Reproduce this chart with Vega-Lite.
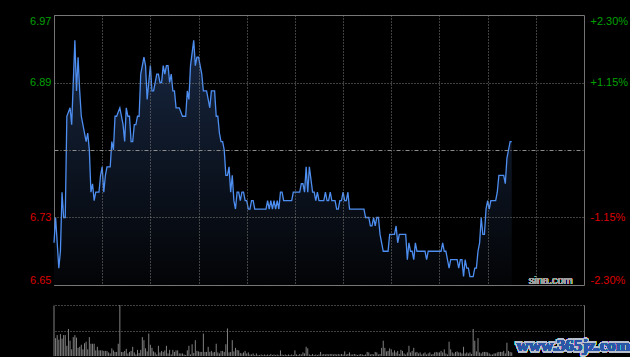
{
  "$schema": "https://vega.github.io/schema/vega-lite/v6.json",
  "background": "#000000",
  "padding": {"left": 29, "top": 14, "right": 0, "bottom": 0},
  "bounds": "flush",
  "spacing": 20,
  "config": {
    "font": "Liberation Sans",
    "view": {"stroke": "#737373", "strokeWidth": 1},
    "axis": {"labelFont": "Liberation Sans", "labelFontSize": 11, "title": null}
  },
  "datasets": {
    "price": [
      {"t":0,"p":6.70},{"t":1,"p":6.73},{"t":3,"p":6.67},{"t":4,"p":6.69},{"t":5,"p":6.76},{"t":6,"p":6.73},{"t":7,"p":6.73},{"t":8,"p":6.85},{"t":10,"p":6.86},{"t":11,"p":6.84},{"t":13,"p":6.94},{"t":14,"p":6.88},{"t":15,"p":6.92},{"t":16,"p":6.88},{"t":17,"p":6.85},{"t":19,"p":6.83},{"t":20,"p":6.82},{"t":21,"p":6.83},{"t":22,"p":6.81},{"t":23,"p":6.76},{"t":24,"p":6.77},{"t":25,"p":6.75},{"t":26,"p":6.76},{"t":28,"p":6.76},{"t":29,"p":6.78},{"t":30,"p":6.79},{"t":31,"p":6.76},{"t":32,"p":6.78},{"t":33,"p":6.79},{"t":35,"p":6.79},{"t":36,"p":6.82},{"t":37,"p":6.81},{"t":38,"p":6.85},{"t":39,"p":6.85},{"t":41,"p":6.86},{"t":42,"p":6.85},{"t":43,"p":6.84},{"t":44,"p":6.82},{"t":45,"p":6.86},{"t":46,"p":6.85},{"t":47,"p":6.85},{"t":48,"p":6.82},{"t":49,"p":6.82},{"t":50,"p":6.84},{"t":51,"p":6.84},{"t":52,"p":6.85},{"t":53,"p":6.85},{"t":54,"p":6.90},{"t":56,"p":6.92},{"t":57,"p":6.91},{"t":58,"p":6.87},{"t":60,"p":6.91},{"t":61,"p":6.88},{"t":62,"p":6.88},{"t":64,"p":6.90},{"t":65,"p":6.90},{"t":66,"p":6.89},{"t":67,"p":6.89},{"t":68,"p":6.91},{"t":69,"p":6.90},{"t":70,"p":6.91},{"t":71,"p":6.91},{"t":72,"p":6.89},{"t":73,"p":6.90},{"t":74,"p":6.88},{"t":75,"p":6.88},{"t":76,"p":6.86},{"t":78,"p":6.86},{"t":80,"p":6.85},{"t":82,"p":6.85},{"t":83,"p":6.88},{"t":84,"p":6.87},{"t":85,"p":6.91},{"t":87,"p":6.94},{"t":88,"p":6.91},{"t":89,"p":6.92},{"t":90,"p":6.92},{"t":92,"p":6.90},{"t":93,"p":6.88},{"t":95,"p":6.88},{"t":96,"p":6.87},{"t":97,"p":6.86},{"t":98,"p":6.88},{"t":100,"p":6.88},{"t":101,"p":6.85},{"t":102,"p":6.85},{"t":103,"p":6.83},{"t":104,"p":6.82},{"t":105,"p":6.82},{"t":106,"p":6.81},{"t":107,"p":6.78},{"t":108,"p":6.78},{"t":109,"p":6.79},{"t":110,"p":6.76},{"t":111,"p":6.78},{"t":112,"p":6.75},{"t":113,"p":6.74},{"t":114,"p":6.76},{"t":115,"p":6.76},{"t":116,"p":6.75},{"t":117,"p":6.76},{"t":118,"p":6.76},{"t":119,"p":6.75},{"t":120,"p":6.75},{"t":121,"p":6.74},{"t":122,"p":6.74},{"t":123,"p":6.75},{"t":124,"p":6.75},{"t":125,"p":6.74},{"t":132,"p":6.74},{"t":133,"p":6.75},{"t":134,"p":6.74},{"t":135,"p":6.75},{"t":136,"p":6.74},{"t":137,"p":6.75},{"t":138,"p":6.74},{"t":139,"p":6.75},{"t":140,"p":6.74},{"t":141,"p":6.76},{"t":142,"p":6.76},{"t":143,"p":6.75},{"t":148,"p":6.75},{"t":149,"p":6.76},{"t":153,"p":6.76},{"t":154,"p":6.77},{"t":155,"p":6.77},{"t":156,"p":6.76},{"t":157,"p":6.79},{"t":158,"p":6.76},{"t":159,"p":6.79},{"t":161,"p":6.76},{"t":162,"p":6.76},{"t":163,"p":6.75},{"t":164,"p":6.76},{"t":165,"p":6.75},{"t":168,"p":6.75},{"t":169,"p":6.76},{"t":170,"p":6.75},{"t":171,"p":6.75},{"t":172,"p":6.76},{"t":173,"p":6.75},{"t":175,"p":6.75},{"t":176,"p":6.74},{"t":177,"p":6.74},{"t":178,"p":6.75},{"t":179,"p":6.75},{"t":180,"p":6.76},{"t":181,"p":6.75},{"t":182,"p":6.75},{"t":183,"p":6.76},{"t":184,"p":6.74},{"t":193,"p":6.74},{"t":194,"p":6.73},{"t":196,"p":6.73},{"t":197,"p":6.72},{"t":198,"p":6.72},{"t":199,"p":6.73},{"t":200,"p":6.72},{"t":201,"p":6.73},{"t":202,"p":6.73},{"t":203,"p":6.71},{"t":205,"p":6.69},{"t":208,"p":6.69},{"t":209,"p":6.71},{"t":212,"p":6.71},{"t":213,"p":6.72},{"t":214,"p":6.70},{"t":215,"p":6.71},{"t":219,"p":6.71},{"t":220,"p":6.68},{"t":221,"p":6.70},{"t":222,"p":6.69},{"t":223,"p":6.69},{"t":224,"p":6.68},{"t":225,"p":6.70},{"t":226,"p":6.69},{"t":231,"p":6.69},{"t":232,"p":6.68},{"t":233,"p":6.69},{"t":241,"p":6.69},{"t":242,"p":6.70},{"t":243,"p":6.69},{"t":244,"p":6.69},{"t":245,"p":6.68},{"t":246,"p":6.67},{"t":247,"p":6.68},{"t":251,"p":6.68},{"t":252,"p":6.67},{"t":253,"p":6.68},{"t":254,"p":6.68},{"t":255,"p":6.66},{"t":256,"p":6.68},{"t":257,"p":6.67},{"t":258,"p":6.67},{"t":259,"p":6.66},{"t":261,"p":6.66},{"t":262,"p":6.67},{"t":263,"p":6.67},{"t":264,"p":6.69},{"t":265,"p":6.70},{"t":266,"p":6.73},{"t":267,"p":6.71},{"t":268,"p":6.71},{"t":269,"p":6.74},{"t":270,"p":6.75},{"t":271,"p":6.74},{"t":272,"p":6.75},{"t":275,"p":6.75},{"t":276,"p":6.76},{"t":277,"p":6.78},{"t":280,"p":6.78},{"t":281,"p":6.77},{"t":282,"p":6.80},{"t":283,"p":6.81},{"t":284,"p":6.82},{"t":285,"p":6.82}
    ],
    "vol": [
      {"t":0,"v":99},{"t":1,"v":35},{"t":2,"v":41},{"t":3,"v":32},{"t":4,"v":43},{"t":5,"v":34},{"t":6,"v":41},{"t":7,"v":41},{"t":8,"v":20},{"t":9,"v":53},{"t":10,"v":30},{"t":11,"v":13},{"t":12,"v":37},{"t":13,"v":41},{"t":14,"v":36},{"t":15,"v":16},{"t":16,"v":18},{"t":17,"v":22},{"t":18,"v":13},{"t":19,"v":25},{"t":20,"v":28},{"t":21,"v":13},{"t":22,"v":37},{"t":23,"v":24},{"t":24,"v":24},{"t":25,"v":24},{"t":26,"v":11},{"t":27,"v":18},{"t":28,"v":11},{"t":29,"v":11},{"t":30,"v":11},{"t":31,"v":10},{"t":32,"v":10},{"t":33,"v":10},{"t":34,"v":7},{"t":35,"v":5},{"t":36,"v":15},{"t":37,"v":11},{"t":38,"v":8},{"t":39,"v":8},{"t":40,"v":24},{"t":41,"v":100},{"t":42,"v":8},{"t":43,"v":8},{"t":44,"v":10},{"t":45,"v":14},{"t":46,"v":5},{"t":47,"v":8},{"t":48,"v":10},{"t":49,"v":18},{"t":50,"v":7},{"t":51,"v":3},{"t":52,"v":12},{"t":53,"v":6},{"t":54,"v":12},{"t":55,"v":37},{"t":56,"v":31},{"t":57,"v":15},{"t":58,"v":9},{"t":59,"v":44},{"t":60,"v":22},{"t":61,"v":16},{"t":62,"v":9},{"t":63,"v":7},{"t":64,"v":3},{"t":65,"v":20},{"t":66,"v":7},{"t":67,"v":10},{"t":68,"v":8},{"t":69,"v":11},{"t":70,"v":20},{"t":71,"v":5},{"t":72,"v":12},{"t":73,"v":3},{"t":74,"v":12},{"t":75,"v":8},{"t":76,"v":11},{"t":77,"v":11},{"t":78,"v":5},{"t":79,"v":5},{"t":80,"v":5},{"t":81,"v":3},{"t":82,"v":2},{"t":83,"v":11},{"t":84,"v":20},{"t":85,"v":3},{"t":86,"v":23},{"t":87,"v":6},{"t":88,"v":31},{"t":89,"v":10},{"t":90,"v":9},{"t":91,"v":8},{"t":92,"v":8},{"t":93,"v":44},{"t":94,"v":8},{"t":95,"v":8},{"t":96,"v":18},{"t":97,"v":8},{"t":98,"v":10},{"t":99,"v":7},{"t":100,"v":8},{"t":101,"v":24},{"t":102,"v":7},{"t":103,"v":5},{"t":104,"v":10},{"t":105,"v":10},{"t":106,"v":8},{"t":107,"v":23},{"t":108,"v":54},{"t":109,"v":7},{"t":110,"v":8},{"t":111,"v":31},{"t":112,"v":9},{"t":113,"v":16},{"t":114,"v":12},{"t":115,"v":11},{"t":116,"v":6},{"t":117,"v":5},{"t":118,"v":7},{"t":119,"v":10},{"t":120,"v":5},{"t":121,"v":7},{"t":122,"v":3},{"t":123,"v":3},{"t":124,"v":5},{"t":125,"v":2},{"t":126,"v":5},{"t":127,"v":2},{"t":128,"v":2},{"t":129,"v":3},{"t":130,"v":2},
      {"t":131,"v":3},{"t":132,"v":2},{"t":133,"v":3},{"t":134,"v":2},{"t":135,"v":4},{"t":136,"v":2},{"t":137,"v":3},{"t":138,"v":2},{"t":139,"v":3},{"t":140,"v":2},{"t":141,"v":11},{"t":142,"v":3},{"t":143,"v":2},{"t":144,"v":3},{"t":145,"v":2},{"t":146,"v":3},{"t":147,"v":2},{"t":148,"v":3},{"t":149,"v":2},{"t":150,"v":11},{"t":151,"v":3},{"t":152,"v":2},{"t":153,"v":4},{"t":154,"v":3},{"t":155,"v":7},{"t":156,"v":5},{"t":157,"v":18},{"t":158,"v":15},{"t":159,"v":3},{"t":160,"v":2},{"t":161,"v":4},{"t":162,"v":2},{"t":163,"v":3},{"t":164,"v":2},{"t":165,"v":3},
      {"t":166,"v":8},{"t":167,"v":3},{"t":168,"v":4},{"t":169,"v":3},{"t":170,"v":4},{"t":171,"v":3},{"t":172,"v":4},{"t":173,"v":4},{"t":174,"v":3},{"t":175,"v":4},{"t":176,"v":3},{"t":177,"v":4},{"t":178,"v":3},{"t":179,"v":4},{"t":180,"v":3},{"t":181,"v":9},{"t":182,"v":3},{"t":183,"v":4},{"t":184,"v":7},{"t":185,"v":3},{"t":186,"v":3},{"t":187,"v":4},{"t":188,"v":3},{"t":189,"v":2},{"t":190,"v":3},{"t":191,"v":4},{"t":192,"v":3},{"t":193,"v":2},{"t":194,"v":3},{"t":195,"v":8},{"t":196,"v":7},{"t":197,"v":3},{"t":198,"v":4},{"t":199,"v":3},{"t":200,"v":8},{"t":201,"v":7},{"t":202,"v":3},{"t":203,"v":4},{"t":204,"v":16},{"t":205,"v":30},{"t":206,"v":16},{"t":207,"v":9},{"t":208,"v":10},{"t":209,"v":15},{"t":210,"v":13},{"t":211,"v":7},{"t":212,"v":11},{"t":213,"v":7},{"t":214,"v":10},{"t":215,"v":4},{"t":216,"v":12},{"t":217,"v":10},{"t":218,"v":5},{"t":219,"v":3},{"t":220,"v":7},{"t":221,"v":20},{"t":222,"v":7},{"t":223,"v":10},{"t":224,"v":16},{"t":225,"v":7},{"t":226,"v":8},{"t":227,"v":5},{"t":228,"v":7},{"t":229,"v":3},{"t":230,"v":5},{"t":231,"v":7},{"t":232,"v":3},{"t":233,"v":5},{"t":234,"v":7},{"t":235,"v":3},{"t":236,"v":4},{"t":237,"v":7},{"t":238,"v":8},{"t":239,"v":7},{"t":240,"v":7},{"t":241,"v":10},{"t":242,"v":7},{"t":243,"v":13},{"t":244,"v":5},{"t":245,"v":3},{"t":246,"v":28},{"t":247,"v":13},{"t":248,"v":7},{"t":249,"v":5},{"t":250,"v":8},{"t":251,"v":9},{"t":252,"v":7},{"t":253,"v":7},{"t":254,"v":5},{"t":255,"v":18},{"t":256,"v":5},{"t":257,"v":7},{"t":258,"v":5},{"t":259,"v":7},{"t":260,"v":4},{"t":261,"v":53},{"t":262,"v":30},{"t":263,"v":9},{"t":264,"v":35},{"t":265,"v":7},{"t":266,"v":5},{"t":267,"v":8},{"t":268,"v":8},{"t":269,"v":8},{"t":270,"v":7},{"t":271,"v":5},{"t":272,"v":3},{"t":273,"v":3},{"t":274,"v":5},{"t":275,"v":5},{"t":276,"v":7},{"t":277,"v":8},{"t":278,"v":8},{"t":279,"v":8},{"t":280,"v":10},{"t":281,"v":5},{"t":282,"v":26},{"t":283,"v":10},{"t":284,"v":8},{"t":285,"v":7}
    ]
  },
  "vconcat": [
    {
      "width": 530,
      "height": 270,
      "data": {"name": "price"},
      "encoding": {
        "x": {
          "field": "t", "type": "quantitative",
          "scale": {"domain": [0, 330], "nice": false, "zero": false},
          "axis": {"values": [30, 60, 90, 120, 150, 180, 210, 240, 270, 300], "labels": false, "ticks": false, "domain": false, "grid": true, "gridColor": "#808080", "gridDash": [1, 2], "zindex": 1, "title": null}
        }
      },
      "layer": [
        {
          "mark": {"type": "area", "fill": {"x1": 0, "y1": 0, "x2": 0, "y2": 1, "gradient": "linear", "stops": [{"offset": 0, "color": "#172640"}, {"offset": 1, "color": "#030406"}]}},
          "encoding": {
            "y": {
              "field": "p", "type": "quantitative",
              "scale": {"domain": [6.65, 6.97], "nice": false, "zero": false},
              "axis": {
                "orient": "left",
                "values": [6.65, 6.73, 6.81, 6.89, 6.97],
                "labelExpr": "abs(datum.value - 6.81) < 0.001 ? '' : format(datum.value, '.2f')",
                "labelColor": {"condition": {"test": "datum.value > 6.815", "value": "#00a000"}, "value": "#dd0000"},
                "labelFlush": true,
                "labelFlushOffset": 0,
                "labelPadding": 3,
                "ticks": false,
                "domain": false,
                "grid": true,
                "zindex": 1,
                "gridColor": {"condition": {"test": "abs(datum.value - 6.81) < 0.001", "value": "#8c8c8c"}, "value": "#808080"},
                "gridDash": {"condition": {"test": "abs(datum.value - 6.81) < 0.001", "value": [4, 2, 1, 2]}, "value": [1, 2]},
                "title": null
              }
            },
            "y2": {"datum": 6.65}
          }
        },
        {
          "mark": {"type": "line", "color": "#4d8ef0", "strokeWidth": 1.3},
          "encoding": {
            "y": {
              "field": "p", "type": "quantitative",
              "axis": {
                "orient": "right",
                "values": [6.65, 6.73, 6.89, 6.97],
                "labelExpr": "(datum.value > 6.81 ? '+' : '-') + format(abs((datum.value - 6.81) / 0.16 * 2.3), '.2f') + '%'",
                "labelColor": {"condition": {"test": "datum.value > 6.815", "value": "#00a000"}, "value": "#dd0000"},
                "labelFlush": true,
                "labelFlushOffset": 0,
                "labelPadding": 6,
                "ticks": false,
                "domain": false,
                "grid": false,
                "title": null
              }
            }
          }
        },
        {
          "mark": {"type": "text", "text": "sina.com", "align": "right", "baseline": "alphabetic", "dy": -1.5, "fontSize": 11, "color": "#a0a0a0", "font": "Liberation Sans"},
          "encoding": {
            "x": {"datum": 323, "type": "quantitative"},
            "y": {"datum": 6.65, "type": "quantitative", "axis": null}
          }
        }
      ],
      "resolve": {"axis": {"y": "independent"}}
    },
    {
      "width": 530,
      "height": 51,
      "view": {"stroke": null},
      "data": {"name": "vol"},
      "layer": [
        {
          "mark": {"type": "rule", "color": "#808080", "strokeWidth": 1},
          "encoding": {
            "x": {"field": "t", "type": "quantitative", "scale": {"domain": [0, 330], "nice": false, "zero": false}, "axis": null},
            "y": {
              "field": "v", "type": "quantitative",
              "scale": {"domain": [0, 100], "nice": false},
              "axis": {"orient": "right", "values": [50, 100], "labels": false, "ticks": false, "domain": true, "domainColor": "#737373", "grid": true, "gridColor": "#808080", "gridDash": [1, 2], "title": null}
            },
            "y2": {"datum": 0}
          }
        },
        {
          "mark": {"type": "text", "text": "www.365jz.com", "align": "left", "baseline": "middle", "font": "Liberation Serif", "fontWeight": "bold", "fontSize": 17, "fill": "#9aa4b8", "stroke": "#b8c0d0", "strokeWidth": 3},
          "encoding": {
            "x": {"datum": 288, "type": "quantitative"},
            "y": {"datum": 20, "type": "quantitative"}
          }
        },
        {
          "mark": {"type": "text", "text": "www.365jz.com", "align": "left", "baseline": "middle", "font": "Liberation Serif", "fontWeight": "bold", "fontSize": 17, "fill": "#2a56a6"},
          "encoding": {
            "x": {"datum": 288, "type": "quantitative"},
            "y": {"datum": 20, "type": "quantitative"}
          }
        }
      ]
    }
  ]
}
